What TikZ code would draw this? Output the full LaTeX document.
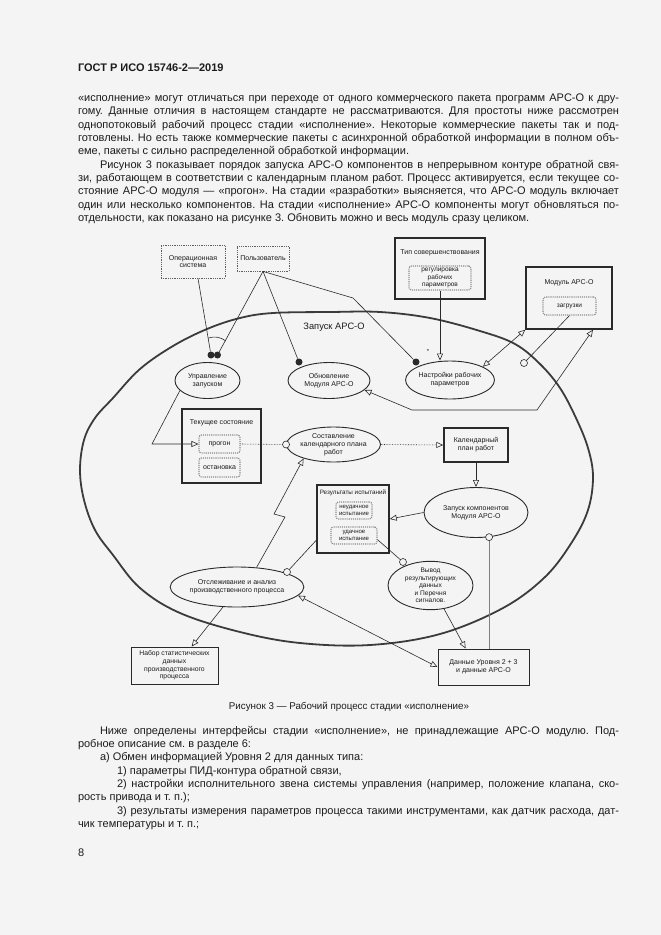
\documentclass[tikz,border=0pt]{standalone}
\usepackage{fontspec}
\setmainfont{Liberation Sans}
\usetikzlibrary{shapes.geometric,arrows.meta,calc}
\definecolor{bg}{HTML}{F4F4F4}
\definecolor{ink}{HTML}{1C1C1C}
\definecolor{linec}{HTML}{2A2A2A}
\definecolor{dotc}{HTML}{8C8C8C}
\newcommand{\jfull}[1]{\makebox[541pt][s]{#1}}
\newcommand{\jind}[1]{\makebox[519pt][s]{#1}}
\newcommand{\jitem}[1]{\makebox[502pt][s]{#1}}
\frenchspacing
\begin{document}
\begin{tikzpicture}[x=1pt,y=-1pt,
 body/.style={anchor=base west, inner sep=0pt, outer sep=0pt, font=\fontsize{11}{13}\selectfont, text=ink},
 uc/.style={ellipse, draw=linec, line width=0.9pt, inner sep=0pt, align=center, font=\fontsize{7}{7.8}\selectfont, text=ink},
 heavybox/.style={rectangle, draw=linec, line width=1.4pt, inner sep=0pt},
 plainbox/.style={rectangle, draw=linec, line width=1pt, inner sep=0pt, align=center, font=\fontsize{6.8}{7.6}\selectfont, text=ink},
 actorbox/.style={rectangle, draw=linec!75, densely dotted, line width=0.8pt, inner sep=0pt, align=center, font=\fontsize{7}{7.8}\selectfont, text=ink},
 innerbox/.style={rectangle, rounded corners=2.5pt, draw=dotc, densely dotted, line width=1.1pt, inner sep=0pt, align=center, font=\fontsize{6.5}{7.2}\selectfont, text=ink},
 boxtitle/.style={inner sep=0pt, font=\fontsize{7}{8}\selectfont, text=ink},
 conn/.style={draw=linec, line width=0.6pt},
 oarr/.style={-{Triangle[open,length=7pt,width=6pt]}},
 oarrb/.style={{Triangle[open,length=7pt,width=6pt]}-{Triangle[open,length=7pt,width=6pt]}},
 fdot/.style={circle, fill=linec, inner sep=0pt, minimum size=7pt},
 ring/.style={circle, draw=linec, fill=bg, line width=0.6pt, inner sep=0pt, minimum size=7pt},
]
\fill[bg] (0,0) rectangle (661,935);
\useasboundingbox (0,0) rectangle (661,935);

% ---------- header and top text ----------
\node[body, font=\fontsize{11}{13}\selectfont\bfseries] (hdr) at (78,71.5) {ГОСТ Р ИСО 15746-2—2019};
\node[body] (t1) at (78,101.5) {\jfull{«исполнение» могут отличаться при переходе от одного коммерческого пакета программ APC-O к дру-}};
\node[body] (t2) at (78,114.85) {\jfull{гому. Данные отличия в настоящем стандарте не рассматриваются. Для простоты ниже рассмотрен}};
\node[body] (t3) at (78,128.2) {\jfull{однопотоковый рабочий процесс стадии «исполнение». Некоторые коммерческие пакеты так и под-}};
\node[body] (t4) at (78,141.55) {\jfull{готовлены. Но есть также коммерческие пакеты с асинхронной обработкой информации в полном объ-}};
\node[body] (t5) at (78,154.9) {еме, пакеты с сильно распределенной обработкой информации.};
\node[body] (t6) at (100,168.25) {\jind{Рисунок 3 показывает порядок запуска APC-O компонентов в непрерывном контуре обратной свя-}};
\node[body] (t7) at (78,181.6) {\jfull{зи, работающем в соответствии с календарным планом работ. Процесс активируется, если текущее со-}};
\node[body] (t8) at (78,194.95) {\jfull{стояние APC-O модуля — «прогон». На стадии «разработки» выясняется, что APC-O модуль включает}};
\node[body] (t9) at (78,208.3) {\jfull{один или несколько компонентов. На стадии «исполнение» APC-O компоненты могут обновляться по-}};
\node[body] (t10) at (78,221.65) {отдельности, как показано на рисунке 3. Обновить можно и весь модуль сразу целиком.};

% ---------- big ellipse ----------
\draw[line width=1.8pt, draw=linec!92] plot[smooth cycle, tension=0.6] coordinates {
 (330,312) (380,312) (430,318) (480,331) (515,344) (540,364) (560,388) (576,418) (588,448) (593,477)
 (588,510) (572,542) (545,577) (503,608) (440,634) (370,645) (300,643) (240,632) (180,613) (140,588)
 (113,555) (95,530) (84,500) (80,470) (84,440) (95,418) (113,398) (140,369) (173,346) (207,329) (240,318) (273,313)};
\node[inner sep=0pt, font=\fontsize{9.3}{11}\selectfont, text=ink] (zlabel) at (334,327) {Запуск APC-O};

% ---------- actors ----------
\node[actorbox, minimum width=64pt, minimum height=33pt] (os) at (193,261.5) {Операционная\\система};
\node[actorbox, minimum width=52pt, minimum height=25pt] (pol) at (263,258.5) {Пользователь};

% ---------- upper right boxes ----------
\node[heavybox, minimum width=90pt, minimum height=61pt] (tip) at (440,268.5) {};
\node[boxtitle] (tipt) at (440,253) {Тип совершенствования};
\node[innerbox, minimum width=62pt, minimum height=24pt] (reg) at (440,278) {регулировка\\рабочих\\параметров};
\node[heavybox, minimum width=86pt, minimum height=62pt] (mod) at (569,298) {};
\node[boxtitle] (modt) at (569,283) {Модуль APC-O};
\node[innerbox, minimum width=53pt, minimum height=18pt] (zag) at (569.5,306) {загрузки};

% ---------- use cases ----------
\node[uc, minimum width=65pt, minimum height=36pt] (upr) at (207.5,380.5) {Управление\\запуском};
\node[uc, minimum width=82pt, minimum height=36pt] (obn) at (329,380.5) {Обновление\\Модуля APC-O};
\node[uc, minimum width=86pt, minimum height=38pt] (nas) at (450,380) {Настройки рабочих\\параметров};
\node[uc, minimum width=94pt, minimum height=35pt] (sost) at (333.5,444.5) {Составление\\календарного плана\\работ};
\node[uc, minimum width=104pt, minimum height=50pt] (zap) at (476,512.5) {Запуск компонентов\\Модуля APC-O};
\node[uc, minimum width=114pt, minimum height=40pt] (otsl) at (237,587) {Отслеживание и анализ\\производственного процесса};
\node[uc, minimum width=85pt, minimum height=47pt, font=\fontsize{6.6}{7.4}\selectfont] (vyv) at (430.5,585.5) {Вывод\\результирующих\\данных\\и Перечня\\сигналов.};

% ---------- middle boxes ----------
\node[heavybox, minimum width=79pt, minimum height=74pt] (tek) at (221.5,446) {};
\node[boxtitle] (tekt) at (221.5,423) {Текущее состояние};
\node[innerbox, minimum width=41pt, minimum height=18pt, font=\fontsize{7}{8}\selectfont] (prog) at (219.5,444) {прогон};
\node[innerbox, minimum width=41pt, minimum height=19pt, font=\fontsize{7}{8}\selectfont] (ost) at (219.5,467.5) {остановка};
\node[heavybox, minimum width=64pt, minimum height=34pt, align=center, font=\fontsize{7}{7.8}\selectfont, text=ink] (kal) at (476,445) {Календарный\\план работ};
\node[heavybox, minimum width=72pt, minimum height=68pt] (rez) at (353,519) {};
\node[boxtitle, font=\fontsize{6.3}{7}\selectfont] (rezt) at (353,492.5) {Результаты испытаний};
\node[innerbox, minimum width=36pt, minimum height=17pt, font=\fontsize{6}{6.8}\selectfont] (neud) at (354,510.5) {неудачное\\испытание};
\node[innerbox, minimum width=46pt, minimum height=17pt, font=\fontsize{6}{6.8}\selectfont] (ud) at (354,535.5) {удачное\\испытание};

% ---------- bottom boxes ----------
\node[plainbox, minimum width=87pt, minimum height=37pt] (nab) at (174.5,665.5) {Набор статистических\\данных\\производственного\\процесса};
\node[plainbox, minimum width=91pt, minimum height=36pt, font=\fontsize{7}{8}\selectfont] (dan) at (483.5,667) {Данные Уровня 2 + 3\\и данные APC-O};

% ---------- markers ----------
\node[fdot] (b1) at (211,355) {};
\node[fdot] (b2) at (217.5,355) {};
\node[fdot] (dobn) at (299,362) {};
\node[fdot] (dnas) at (416,362) {};
\node[ring] (rnas) at (524,363) {};
\node[ring] (rsost) at (sost.west) {};
\node[ring] (rzap) at (zap.-62) {};
\node[ring] (rvyv) at (403,562) {};
\node[ring] (rotsl) at (287,572) {};
\coordinate (pbend) at (353,298);
\coordinate (mb1) at (537,410);
\coordinate (mb2) at (412,410);
\coordinate (ub) at (152,444);
\coordinate (z1) at (285,517);
\coordinate (z2) at (274,514);

% ---------- connectors ----------
\draw[conn] ([xshift=5pt]os.south) -- (b1);
\draw[conn] (pol.south) -- (b2);
\draw[conn] (214.5,355) ++(-111:18) arc[start angle=-111, end angle=-51, radius=18];
\draw[conn] (pol.south) -- (dobn);
\draw[conn] (pol.south) -- (pbend) -- (dnas);
\draw[conn, oarr] (reg.south) -- (reg.south |- nas.north);
\node[inner sep=0pt, font=\fontsize{6}{7}\selectfont, text=ink] (star) at (428,351) {*};
\draw[conn, oarrb] (nas.22) -- (mod.south west);
\draw[conn] (zag.south) -- (rnas);
\draw[conn, oarrb] (obn.-15) -- (mb2) -- (mb1) -- ([xshift=24pt]mod.south);
\draw[conn, oarr] (upr.200) -- (ub) -- (prog.west);
\draw[conn, densely dotted] (prog.east) -- (rsost);
\draw[conn, densely dotted, oarr] (sost.east) -- (kal.west);
\draw[conn, oarr] (kal.south) -- (zap.north);
\draw[conn, oarr] (zap.west) -- (rez.east);
\draw[draw=gray, line width=0.9pt] (rzap.south) -- (rzap.south |- dan.north);
\draw[conn] (ud.-10) -- (rvyv);
\draw[conn] (rez.210) -- (rotsl);
\draw[conn, oarr] (otsl.45) -- (z1) -- (z2) -- (sost.-155);
\draw[conn, oarr] (otsl.-125) -- (nab.48);
\draw[conn, oarr] (vyv.-60) -- (dan.134);
\draw[conn, oarrb] (otsl.-8) -- (dan.west);

% ---------- caption and bottom text ----------
\node[inner sep=0pt, anchor=base, font=\fontsize{9.8}{12}\selectfont, text=ink] (cap) at (349,709.5) {Рисунок 3 — Рабочий процесс стадии «исполнение»};
\node[body] (u1) at (100,734) {\jind{Ниже определены интерфейсы стадии «исполнение», не принадлежащие APC-O модулю. Под-}};
\node[body] (u2) at (78,747.35) {робное описание см. в разделе 6:};
\node[body] (u3) at (100,760.7) {а) Обмен информацией Уровня 2 для данных типа:};
\node[body] (u4) at (117,774.05) {1) параметры ПИД-контура обратной связи,};
\node[body] (u5) at (117,787.4) {\jitem{2) настройки исполнительного звена системы управления (например, положение клапана, ско-}};
\node[body] (u6) at (78,800.75) {рость привода и т. п.);};
\node[body] (u7) at (117,814.1) {\jitem{3) результаты измерения параметров процесса такими инструментами, как датчик расхода, дат-}};
\node[body] (u8) at (78,827.45) {чик температуры и т. п.;};
\node[body] (pg) at (78,856) {8};
\end{tikzpicture}
\end{document}
